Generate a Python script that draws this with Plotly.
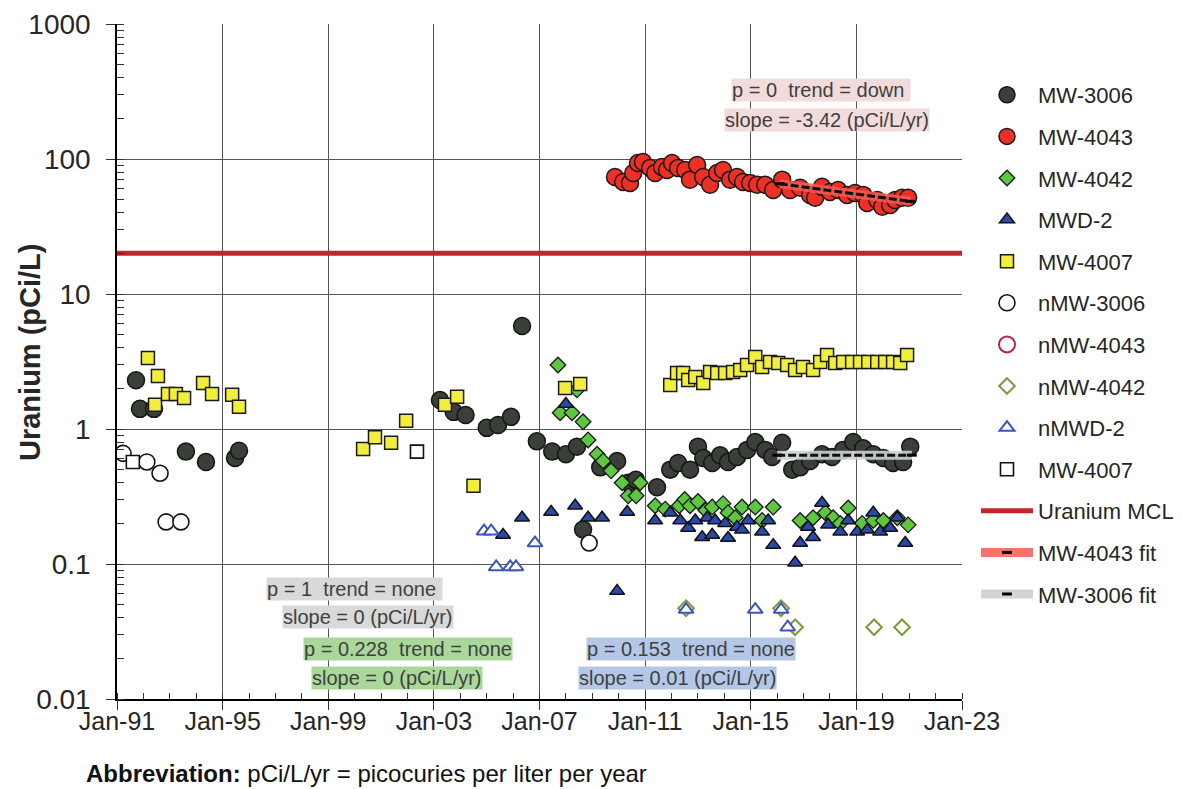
import plotly.graph_objects as go

# ---------------- data (decimal years, pCi/L) ----------------
mw3006_year = [1991.72, 1991.87, 1992.40, 1993.61, 1994.37, 1995.47, 1995.62,
               2003.23, 2003.75, 2004.20, 2005.00, 2005.43, 2005.92, 2006.34, 2006.90,
               2007.48, 2008.00, 2008.42, 2008.65, 2009.30, 2009.94, 2010.36, 2010.65,
               2011.45, 2011.95, 2012.25, 2012.70, 2013.00, 2013.20, 2013.54, 2013.84,
               2014.14, 2014.48, 2014.86, 2015.17, 2015.55, 2015.81, 2016.19, 2016.57,
               2016.87, 2017.25, 2017.70, 2018.08, 2018.50, 2018.88, 2019.26, 2019.64,
               2020.02, 2020.39, 2020.77, 2021.04]
mw3006_value = [2.30, 1.41, 1.41, 0.68, 0.57, 0.61, 0.69,
                1.64, 1.34, 1.27, 1.02, 1.07, 1.23, 5.80, 0.81,
                0.68, 0.65, 0.74, 0.18, 0.52, 0.58, 0.40, 0.42,
                0.37, 0.50, 0.56, 0.50, 0.74, 0.61, 0.56, 0.64,
                0.57, 0.62, 0.70, 0.80, 0.70, 0.62, 0.79, 0.50,
                0.52, 0.58, 0.65, 0.62, 0.70, 0.80, 0.72, 0.65,
                0.61, 0.56, 0.57, 0.74]

mw4043_year = [2009.86, 2010.17, 2010.43, 2010.55, 2010.73, 2010.92, 2011.19, 2011.38,
               2011.64, 2011.83, 2012.02, 2012.25, 2012.52, 2012.70, 2012.97, 2013.20,
               2013.46, 2013.73, 2013.95, 2014.22, 2014.48, 2014.71, 2014.98, 2015.24,
               2015.55, 2015.85, 2016.19, 2016.49, 2016.87, 2017.25, 2017.44, 2017.70,
               2018.00, 2018.31, 2018.65, 2018.95, 2019.26, 2019.41, 2019.79, 2019.98,
               2020.28, 2020.47, 2020.73, 2020.96]
mw4043_value = [73.6, 67.6, 66.4, 78.8, 93.3, 94.9, 85.9, 78.8,
                87.3, 83.0, 93.3, 85.9, 83.0, 70.3, 90.3, 73.6,
                64.5, 78.8, 83.0, 70.3, 73.6, 67.6, 66.4, 64.5,
                64.5, 59.0, 70.3, 59.0, 61.2, 54.2, 51.6, 62.2,
                56.9, 59.0, 54.2, 55.9, 54.2, 47.2, 49.7, 44.3,
                45.7, 49.7, 51.6, 51.6]

mw4042_year = [2007.70, 2008.42, 2007.78, 2008.23, 2008.65, 2008.84, 2009.18, 2009.41,
               2009.71, 2010.13, 2010.81, 2010.36, 2010.66,
               2011.38, 2011.76, 2012.29, 2012.50, 2012.70, 2013.00, 2013.30, 2013.54,
               2013.95, 2014.14, 2014.41, 2014.67, 2015.17, 2015.43, 2015.85, 2016.87,
               2017.36, 2017.82, 2018.12, 2018.39, 2018.69, 2019.22, 2019.64, 2020.02,
               2020.55, 2020.96]
mw4042_value = [2.98, 1.95, 1.32, 1.32, 1.13, 0.83, 0.65, 0.58,
                0.49, 0.40, 0.40, 0.32, 0.32,
                0.27, 0.255, 0.27, 0.30, 0.27, 0.29, 0.25, 0.264,
                0.28, 0.24, 0.22, 0.264, 0.264, 0.21, 0.264, 0.21,
                0.22, 0.24, 0.22, 0.20, 0.26, 0.20, 0.21, 0.21,
                0.22, 0.195]

mwd2_year = [2005.62, 2006.34, 2007.44, 2008.00, 2008.35, 2008.84, 2009.37, 2009.94,
             2010.32, 2011.38, 2011.95, 2012.33, 2012.63, 2012.90, 2013.16, 2013.35,
             2013.54, 2013.65, 2014.03, 2014.14, 2014.48, 2014.67, 2014.90, 2015.43,
             2015.66, 2015.85, 2016.68, 2016.87, 2017.17, 2017.36, 2017.70, 2017.93,
             2018.39, 2018.69, 2019.03, 2019.41, 2019.64, 2019.90, 2020.28, 2020.55,
             2020.85]
mwd2_value = [0.164, 0.22, 0.243, 1.53, 0.27, 0.22, 0.22, 0.063,
              0.243, 0.21, 0.24, 0.21, 0.185, 0.21, 0.158, 0.22,
              0.164, 0.21, 0.20, 0.156, 0.188, 0.179, 0.21, 0.173,
              0.21, 0.138, 0.102, 0.143, 0.188, 0.158, 0.283, 0.195,
              0.173, 0.21, 0.173, 0.179, 0.24, 0.173, 0.185, 0.22,
              0.143]

mw4007_year = [1992.17, 1992.44, 1992.55, 1992.93, 1993.23, 1993.54, 1994.26, 1994.60,
               1995.36, 1995.62, 2000.32, 2000.77, 2001.38, 2001.95, 2003.42, 2003.88,
               2004.50, 2007.97, 2008.54,
               2011.95, 2012.21, 2012.44, 2012.63, 2012.90, 2013.20, 2013.46, 2013.73,
               2014.03, 2014.33, 2014.60, 2014.86, 2015.17, 2015.43, 2015.73, 2016.04,
               2016.38, 2016.68, 2016.98, 2017.36, 2017.63, 2017.89, 2018.20, 2018.50,
               2018.84, 2019.14, 2019.45, 2019.79, 2020.09, 2020.39, 2020.66, 2020.92]
mw4007_value = [3.36, 1.51, 2.47, 1.82, 1.82, 1.70, 2.19, 1.82,
                1.79, 1.46, 0.71, 0.87, 0.79, 1.15, 1.51, 1.73,
                0.38, 2.01, 2.15,
                2.12, 2.60, 2.60, 2.31, 2.43, 2.19, 2.64, 2.60,
                2.60, 2.64, 2.73, 2.98, 3.41, 2.88, 3.13, 3.08,
                2.98, 2.73, 2.88, 2.73, 3.13, 3.53, 3.08, 3.13,
                3.13, 3.13, 3.13, 3.13, 3.13, 3.13, 3.08, 3.53]

nmw3006_year = [1991.23, 1992.13, 1992.63, 1992.86, 1993.42, 2008.88]
nmw3006_value = [0.66, 0.57, 0.47, 0.205, 0.205, 0.143]

nmw4043_year = []
nmw4043_value = []

nmw4042_year = [2012.55, 2016.15, 2016.68, 2019.67, 2020.73]
nmw4042_value = [0.047, 0.047, 0.034, 0.034, 0.034]

nmwd2_year = [2004.90, 2005.17, 2005.36, 2005.89, 2006.11, 2006.83,
              2012.55, 2015.17, 2016.15, 2016.40]
nmwd2_value = [0.175, 0.175, 0.095, 0.095, 0.095, 0.143,
               0.046, 0.046, 0.046, 0.034]

nmw4007_year = [1991.60, 2002.36]
nmw4007_value = [0.57, 0.68]

mcl_value = 20.0

fit4043_years = [2016.10, 2021.05]
fit4043_start_value = 65.5
fit4043_slope = -3.42
fit3006_years = [2016.00, 2021.10]
fit3006_value = 0.64
fit3006_slope = 0.0

x_range = [1991, 2023]
x_tick_values = [1991, 1995, 1999, 2003, 2007, 2011, 2015, 2019, 2023]
x_tick_labels = ["Jan-91", "Jan-95", "Jan-99", "Jan-03", "Jan-07", "Jan-11",
                 "Jan-15", "Jan-19", "Jan-23"]
y_tick_values = [0.01, 0.1, 1, 10, 100, 1000]
y_tick_labels = ["0.01", "0.1", "1", "10", "100", "1000"]

stats_texts = [
    ("p = 0\u00a0 trend = down\u00a0", "slope = -3.42 (pCi/L/yr)", "#f2dcdb"),
    ("p = 1\u00a0 trend = none\u00a0", "slope = 0 (pCi/L/yr)", "#d9d9d9"),
    ("p = 0.228\u00a0 trend = none", "slope = 0 (pCi/L/yr)", "#a9d89a"),
    ("p = 0.153\u00a0 trend = none", "slope = 0.01 (pCi/L/yr)", "#b4c7e7"),
]

# ---------------- layout constants ----------------
# the page body has an 8px margin, so the figure is drawn 8px in from the corner
OFF = 8
W, H = 1183 - OFF, 789 - OFF
L, T = 117 - OFF, 24 - OFF
PW, PH = 845, 675
R, B = W - L - PW, H - T - PH
FONT = "Liberation Sans, Arial, Helvetica, sans-serif"


def px_x(px):          # reference-screen pixel -> paper fraction
    return (px - OFF - L) / PW


def px_y(py):
    return (T + PH - (py - OFF)) / PH


fig = go.Figure()


def add_markers(name, xs, ys, symbol, size, fill, edge, lw, group):
    fig.add_trace(go.Scatter(
        x=xs if xs else [None], y=ys if ys else [None], mode="markers", name=name,
        legendgroup=group,
        marker=dict(symbol=symbol, size=size, color=fill,
                    line=dict(color=edge, width=lw)),
    ))


add_markers("MW-3006", mw3006_year, mw3006_value, "circle", 17, "#3a4039", "#151515", 1.5, "g01")
add_markers("MW-4043", mw4043_year, mw4043_value, "circle", 17, "#ee2f25", "#1a1a1a", 1.5, "g02")
add_markers("MW-4042", mw4042_year, mw4042_value, "diamond", 12, "#5fc641", "#1a1a1a", 1.3, "g03")
add_markers("MWD-2", mwd2_year, mwd2_value, "triangle-up", 13, "#2b49a6", "#111111", 1.5, "g04")
add_markers("MW-4007", mw4007_year, mw4007_value, "square", 13, "#f2ee3c", "#1a1a1a", 1.5, "g05")
add_markers("nMW-3006", nmw3006_year, nmw3006_value, "circle", 16, "white", "#111111", 1.6, "g06")
add_markers("nMW-4043", nmw4043_year, nmw4043_value, "circle", 16, "white", "#b1274a", 2, "g07")
add_markers("nMW-4042", nmw4042_year, nmw4042_value, "diamond", 12, "white", "#7d9a3c", 2, "g08")
add_markers("nMWD-2", nmwd2_year, nmwd2_value, "triangle-up", 13, "white", "#3c55b6", 2, "g09")
add_markers("MW-4007", nmw4007_year, nmw4007_value, "square", 13, "white", "#111111", 1.6, "g10")

# Uranium MCL
fig.add_trace(go.Scatter(
    x=x_range, y=[mcl_value, mcl_value], mode="lines", name="Uranium MCL",
    legendgroup="g11", line=dict(color="#c0262c", width=5),
))


def add_fit(name, years, start_val, slope, band_color, group):
    ys = [start_val + slope * (yr - years[0]) for yr in years]
    fig.add_trace(go.Scatter(
        x=years, y=ys, mode="lines+markers", name=name, legendgroup=group,
        line=dict(color=band_color, width=9),
        marker=dict(symbol="line-ew", size=7, color="black",
                    line=dict(color="black", width=3)),
    ))
    fig.add_trace(go.Scatter(
        x=years, y=ys, mode="lines", name=name, legendgroup=group, showlegend=False,
        line=dict(color="#111111", width=3, dash="8px,3px"),
    ))


add_fit("MW-4043 fit", fit4043_years, fit4043_start_value, fit4043_slope,
        "rgba(243,90,86,0.85)", "g12")
add_fit("MW-3006 fit", fit3006_years, fit3006_value, fit3006_slope,
        "rgba(205,207,210,0.9)", "g13")

# ---------------- annotations ----------------
ann_pos = [((821, 90), (827, 120)),
           ((354, 589), (368, 617)),
           ((408, 649), (397, 678)),
           ((691, 649), (677, 678))]
annotations = []
for (t1, t2, bg), (p1, p2) in zip(stats_texts, ann_pos):
    for txt, (cx, cy) in ((t1, p1), (t2, p2)):
        annotations.append(dict(
            text=txt, x=px_x(cx), y=px_y(cy), xref="paper", yref="paper",
            xanchor="center", yanchor="middle", showarrow=False,
            bgcolor=bg, borderpad=0,
            font=dict(family=FONT, size=20, color="#3f3f3f"),
        ))

annotations.append(dict(
    text="<b>Uranium (pCi/L)</b>", x=px_x(30), y=px_y(352), xref="paper", yref="paper",
    xanchor="center", yanchor="middle", textangle=-90, showarrow=False,
    font=dict(family=FONT, size=29, color="#262626"),
))
annotations.append(dict(
    text="<b>Abbreviation:</b> pCi/L/yr = picocuries per liter per year",
    x=px_x(84), y=px_y(773), xref="paper", yref="paper",
    xanchor="left", yanchor="middle", showarrow=False,
    font=dict(family=FONT, size=24, color="#111111"),
))

fig.update_layout(
    width=W, height=H,
    margin=dict(l=L, r=R, t=T, b=B, autoexpand=False),
    paper_bgcolor="white", plot_bgcolor="white",
    font=dict(family=FONT, color="#262626"),
    showlegend=True,
    legend=dict(x=px_x(976), y=px_y(74), xanchor="left", yanchor="top",
                font=dict(family=FONT, size=22, color="#262626"),
                tracegroupgap=10, itemwidth=52, traceorder="grouped",
                bgcolor="rgba(0,0,0,0)"),
    annotations=annotations,
    xaxis=dict(
        range=x_range, tickmode="array", tickvals=x_tick_values, ticktext=x_tick_labels,
        automargin=False,
        showgrid=True, gridcolor="#555555", gridwidth=1.2,
        showline=True, linecolor="black", linewidth=1.5,
        ticks="outside", ticklen=9, tickcolor="#333333", tickwidth=1.2,
        ticklabelstandoff=-10,
        tickfont=dict(family=FONT, size=25, color="#262626"),
        minor=dict(tick0=1991, dtick=1, ticks="inside", ticklen=6,
                   tickcolor="#333333", tickwidth=1.2, showgrid=False),
        zeroline=False,
    ),
    yaxis=dict(
        type="log", range=[-2, 3], tickmode="array", tickvals=y_tick_values,
        ticktext=y_tick_labels, automargin=False,
        showgrid=True, gridcolor="#555555", gridwidth=1.2,
        showline=True, linecolor="black", linewidth=1.5,
        ticks="outside", ticklen=9, tickcolor="#333333", tickwidth=1.2,
        ticklabelstandoff=10,
        tickfont=dict(family=FONT, size=28, color="#262626"),
        minor=dict(dtick="D1", ticks="inside", ticklen=7,
                   tickcolor="#333333", tickwidth=1.2, showgrid=False),
        zeroline=False,
    ),
)

fig.write_html("out.html")
